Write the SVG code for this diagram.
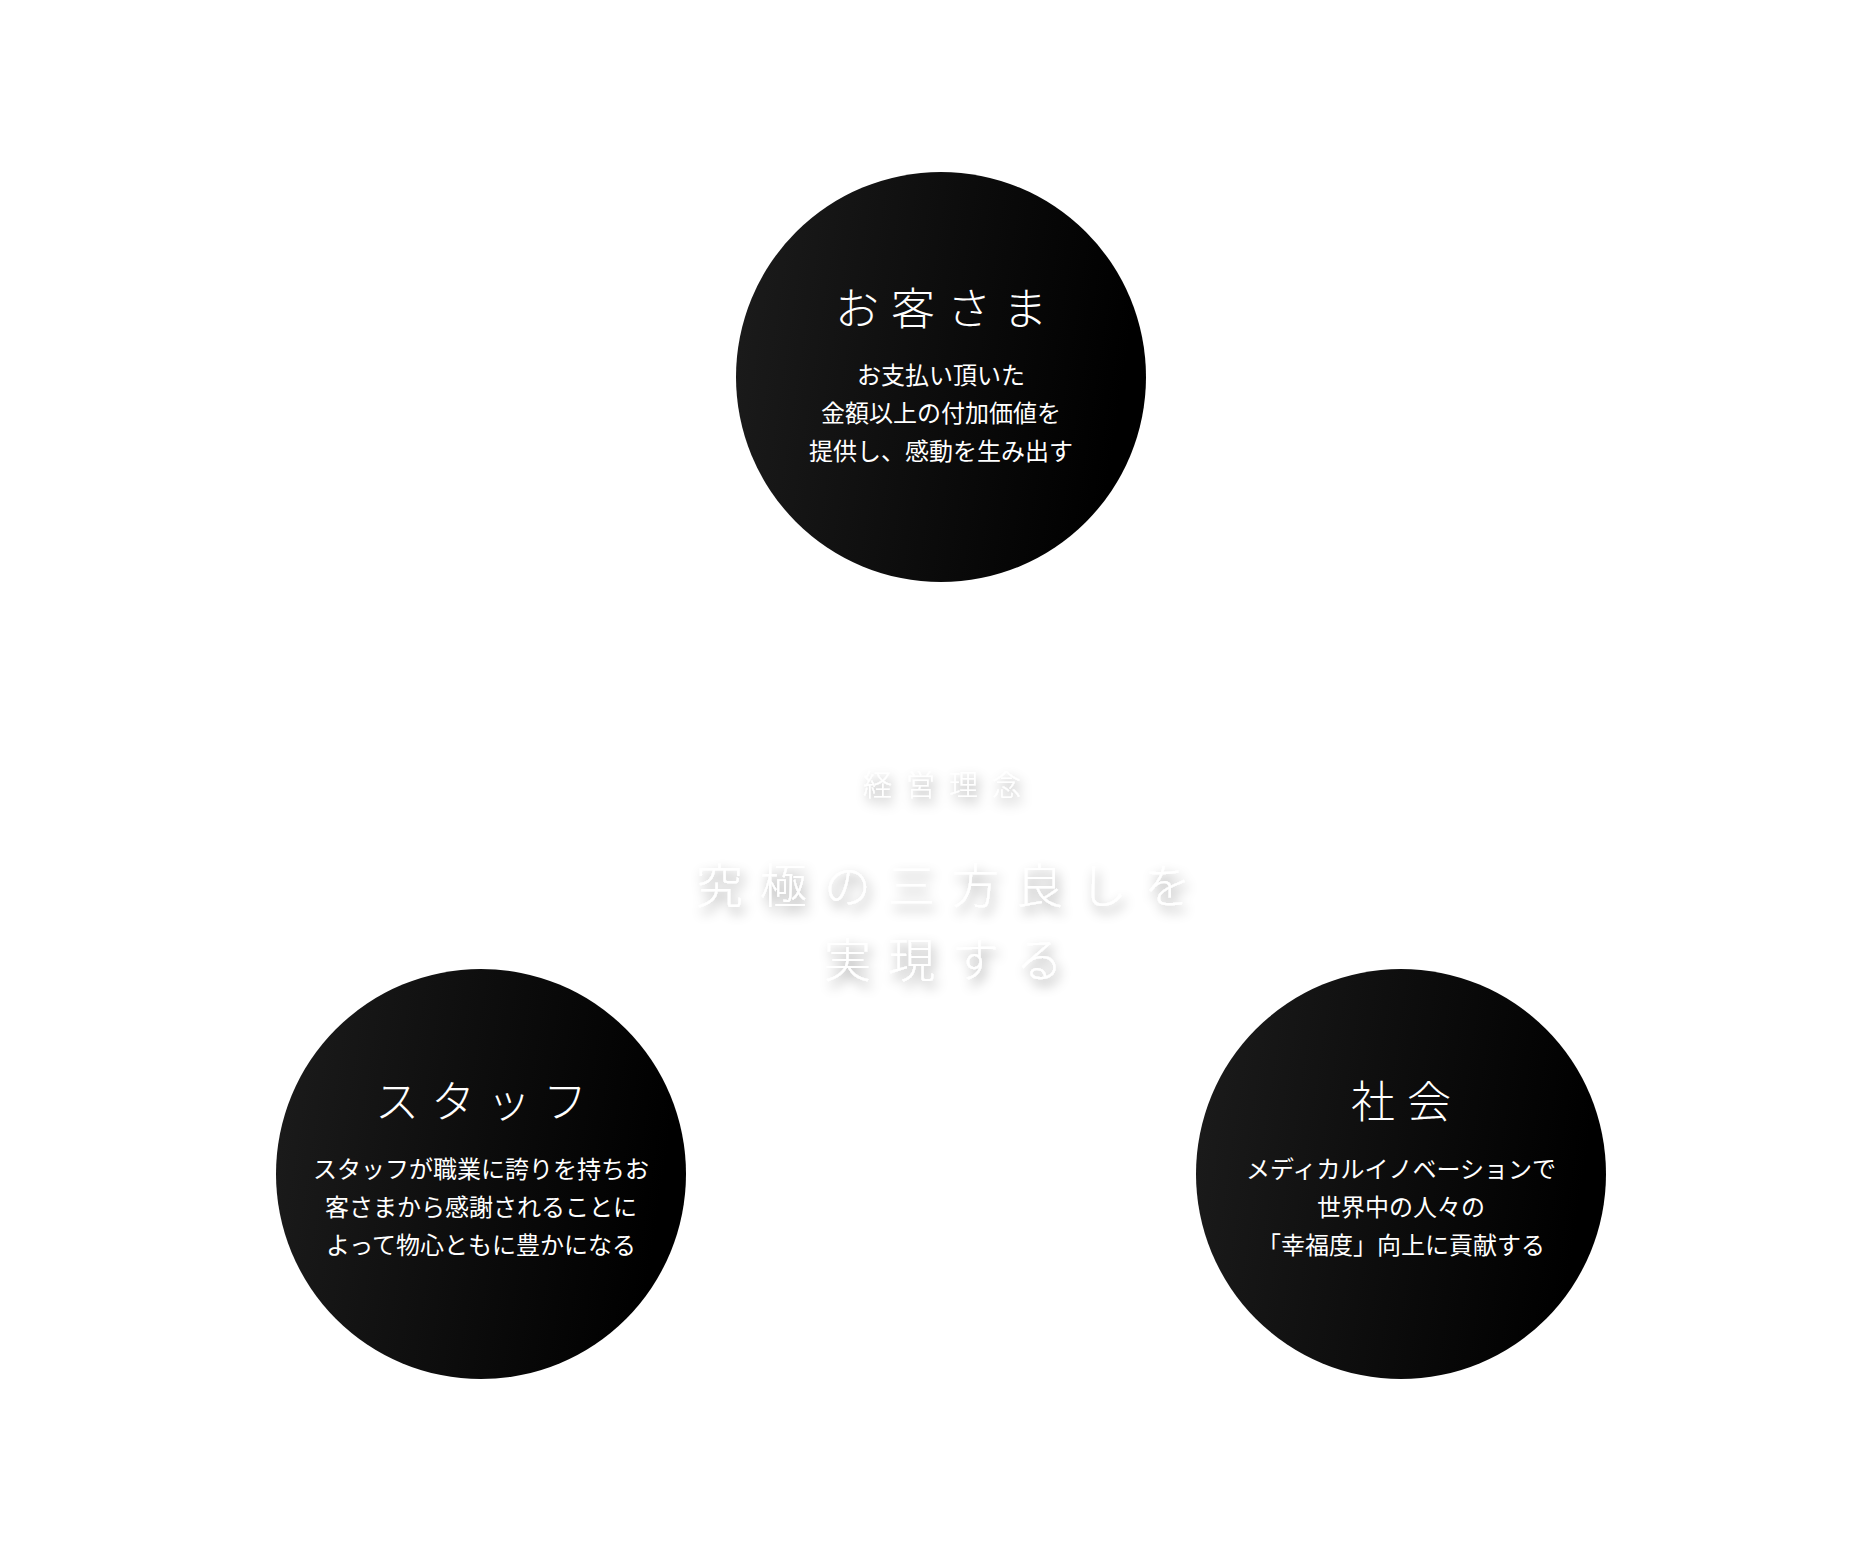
<svg xmlns="http://www.w3.org/2000/svg" width="1874" height="1542" viewBox="0 0 1874 1542">
<defs>
<linearGradient id="g" x1="0" y1="0" x2="1" y2="0.15">
<stop offset="0" stop-color="#1c1c1c"/><stop offset="1" stop-color="#000"/>
</linearGradient>
<filter id="sh" x="-20%" y="-50%" width="140%" height="200%">
<feDropShadow dx="3" dy="6" stdDeviation="6" flood-color="#000" flood-opacity="0.4"/>
</filter>
</defs>
<style>
text{font-family:"Noto Sans CJK JP","Noto Sans CJK SC",sans-serif;fill:#fff;text-anchor:middle}
.t{font-size:44px;font-weight:300;letter-spacing:12px}
.b{font-size:24px;font-weight:400}
.c1{font-size:29px;font-weight:300;letter-spacing:14px;filter:url(#sh)}
.c2{font-size:47px;font-weight:300;letter-spacing:17px;filter:url(#sh)}
</style>
<rect width="1874" height="1542" fill="#fff"/>
<g id="center">
<text class="c1" x="949" y="796">経営理念</text>
<text class="c2" x="952" y="903">究極の三方良しを</text>
<text class="c2" x="952" y="977">実現する</text>
</g>
<g id="customer">
<circle cx="941" cy="377" r="205" fill="url(#g)"/>
<text class="t" x="947" y="325">お客さま</text>
<text class="b" x="941" y="384">お支払い頂いた</text>
<text class="b" x="941" y="422">金額以上の付加価値を</text>
<text class="b" x="941" y="460">提供し、感動を生み出す</text>
</g>
<g id="staff">
<circle cx="481" cy="1174" r="205" fill="url(#g)"/>
<text class="t" x="487" y="1118">スタッフ</text>
<text class="b" x="481" y="1178">スタッフが職業に誇りを持ちお</text>
<text class="b" x="481" y="1216">客さまから感謝されることに</text>
<text class="b" x="481" y="1254">よって物心ともに豊かになる</text>
</g>
<g id="society">
<circle cx="1401" cy="1174" r="205" fill="url(#g)"/>
<text class="t" x="1407" y="1118">社会</text>
<text class="b" x="1401" y="1178">メディカルイノベーションで</text>
<text class="b" x="1401" y="1216">世界中の人々の</text>
<text class="b" x="1401" y="1254">「幸福度」向上に貢献する</text>
</g>
<g id="connectors"/>
</svg>
